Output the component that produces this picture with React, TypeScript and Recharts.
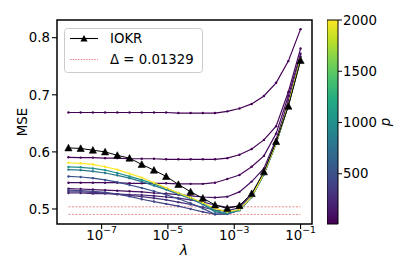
import React from 'react';
import { ComposedChart, Line, XAxis, YAxis, ReferenceLine, ReferenceArea, Legend, Label } from 'recharts';

// ---------- data ----------
const lambdas = [
  1e-8, 2.336e-8, 5.456e-8, 1.274e-7, 2.976e-7, 6.952e-7, 1.624e-6, 3.793e-6, 8.859e-6, 2.069e-5,
  4.833e-5, 1.129e-4, 2.637e-4, 6.158e-4, 1.438e-3, 3.36e-3, 7.848e-3, 1.833e-2, 4.281e-2, 1e-1,
];

const pValues = [10, 25, 50, 100, 200, 300, 400, 500, 800, 1000, 2000];

const mseP10 = [0.669, 0.669, 0.669, 0.669, 0.669, 0.669, 0.669, 0.669, 0.669, 0.668, 0.668, 0.668, 0.668, 0.671, 0.676, 0.684, 0.698, 0.721, 0.759, 0.815];
const mseP25 = [0.5905, 0.590, 0.590, 0.589, 0.589, 0.588, 0.588, 0.588, 0.587, 0.587, 0.587, 0.587, 0.587, 0.589, 0.595, 0.605, 0.621, 0.645, 0.705, 0.781];
const mseP50 = [0.546, 0.546, 0.546, 0.546, 0.546, 0.545, 0.545, 0.545, 0.545, 0.544, 0.544, 0.544, 0.546, 0.5525, 0.5595, 0.574, 0.593, 0.632, 0.698, 0.772];
const mseP100 = [0.5356, 0.535, 0.534, 0.533, 0.532, 0.531, 0.530, 0.528, 0.527, 0.525, 0.523, 0.521, 0.520, 0.5215, 0.530, 0.548, 0.571, 0.622, 0.690, 0.767];
const mseP200 = [0.528, 0.528, 0.527, 0.527, 0.526, 0.525, 0.5245, 0.523, 0.521, 0.519, 0.516, 0.512, 0.507, 0.503, 0.505, 0.524, 0.563, 0.617, 0.684, 0.764];
const mseP300 = [0.530, 0.530, 0.529, 0.528, 0.526, 0.524, 0.5215, 0.519, 0.516, 0.512, 0.508, 0.503, 0.498, 0.497, 0.502, 0.523, 0.562, 0.616, 0.683, 0.763];
const mseP400 = [0.533, 0.532, 0.531, 0.529, 0.526, 0.522, 0.517, 0.513, 0.509, 0.505, 0.500, 0.495, 0.491, 0.492, 0.499, 0.522, 0.561, 0.615, 0.682, 0.762];
const mseP500 = [0.557, 0.556, 0.554, 0.551, 0.547, 0.542, 0.537, 0.531, 0.525, 0.518, 0.510, 0.501, 0.4905, 0.491, 0.498, 0.521, 0.561, 0.615, 0.682, 0.762];
const mseP800 = [0.569, 0.568, 0.566, 0.563, 0.559, 0.554, 0.548, 0.541, 0.534, 0.526, 0.518, 0.508, 0.495, 0.492, 0.498, 0.521, 0.561, 0.615, 0.682, 0.762];
const mseP1000 = [0.5736, 0.573, 0.571, 0.568, 0.563, 0.557, 0.551, 0.544, 0.536, 0.528, 0.520, 0.510, 0.497, 0.493, 0.498, 0.521, 0.561, 0.615, 0.682, 0.762];
const mseP2000 = [0.581, 0.580, 0.578, 0.574, 0.569, 0.562, 0.555, 0.546, 0.537, 0.528, 0.520, 0.511, 0.501, 0.495, 0.499, 0.522, 0.562, 0.616, 0.683, 0.763];

const mseIOKR = [0.607, 0.606, 0.603, 0.600, 0.594, 0.589, 0.578, 0.568, 0.557, 0.543, 0.530, 0.519, 0.507, 0.501, 0.506, 0.527, 0.565, 0.618, 0.680, 0.760];

const minMse = 0.4905;
const delta = 0.01329;

const yTicks = [0.5, 0.6, 0.7, 0.8];
const xTicks = [1e-7, 1e-5, 1e-3, 1e-1];
const cbarTicks = [500, 1000, 1500, 2000];
const pMin = 10;
const pMax = 2000;

const seriesValues = [mseP10, mseP25, mseP50, mseP100, mseP200, mseP300, mseP400, mseP500, mseP800, mseP1000, mseP2000];

// ---------- styling ----------
const FONT = 'DejaVu Sans';
const FS = 13.3;
const xDomain = [4.519e-9, 0.2213];
const yDomain = [0.4737, 0.831];

const viridisStops = ['#440154', '#482475', '#414487', '#355f8d', '#2a788e', '#21918c', '#22a884', '#44bf70', '#7ad151', '#bddf26', '#fde725'];

function viridis(t: number): string {
  const tt = Math.max(0, Math.min(1, t)) * (viridisStops.length - 1);
  const i = Math.min(Math.floor(tt), viridisStops.length - 2);
  const f = tt - i;
  const a = viridisStops[i];
  const b = viridisStops[i + 1];
  const c = [1, 3, 5].map((k) => {
    const va = parseInt(a.slice(k, k + 2), 16);
    const vb = parseInt(b.slice(k, k + 2), 16);
    return Math.round(va + (vb - va) * f).toString(16).padStart(2, '0');
  });
  return '#' + c.join('');
}

const rows = lambdas.map((lam, i) => {
  const r: Record<string, number> = { lam, iokr: mseIOKR[i] };
  pValues.forEach((p, j) => {
    r['p' + p] = seriesValues[j][i];
  });
  return r;
});

const XTick = (props: any) => {
  const { x, y, payload } = props;
  const exp = Math.round(Math.log10(payload.value));
  return (
    <g transform={`translate(${x},${y})`}>
      <text x={0} y={0} dy={8.5} textAnchor="middle" fontFamily={FONT} fontSize={FS} fill="#000">
        10
        <tspan dy={-7} fontSize={9.3}>{'\u2212' + Math.abs(exp)}</tspan>
      </text>
    </g>
  );
};

const Triangle = (props: any) => {
  const { cx, cy, index } = props;
  if (cx == null || cy == null) return <g key={index} />;
  return <path key={index} d={`M${cx},${cy - 3.6} L${cx + 3.6},${cy + 3} L${cx - 3.6},${cy + 3} Z`} fill="#000" stroke="#000" strokeWidth={0.6} />;
};

const LegendBox = () => (
  <svg width={140} height={46} style={{ display: 'block' }}>
    <rect x={0.5} y={0.5} width={138} height={44} rx={3} ry={3} fill="#fff" fillOpacity={0.8} stroke="#cccccc" strokeWidth={1} />
    <line x1={6} y1={10.5} x2={34} y2={10.5} stroke="#000" strokeWidth={1.1} />
    <path d="M20,6.9 L23.6,13.5 L16.4,13.5 Z" fill="#000" />
    <text x={46} y={10.5} dy="0.36em" fontFamily={FONT} fontSize={FS} fill="#000">IOKR</text>
    <line x1={6} y1={31.5} x2={34} y2={31.5} stroke="#d62728" strokeOpacity={0.55} strokeWidth={1} strokeDasharray="1.5 1.2" />
    <text x={46} y={31.5} dy="0.36em" fontFamily={FONT} fontSize={FS} fill="#000">{'\u0394 = ' + delta}</text>
  </svg>
);

export default function App() {
  return (
    <div style={{ position: 'absolute', left: 0, top: 0, width: 409, height: 273, background: '#fff' }}>
      <div style={{ position: 'absolute', left: 0, top: 0 }}>
        <ComposedChart width={409} height={273} data={rows} margin={{ top: 20, right: 97, bottom: 0, left: 0 }}>
          <XAxis
            dataKey="lam"
            type="number"
            scale="log"
            domain={xDomain}
            allowDataOverflow
            ticks={xTicks}
            tick={<XTick />}
            tickSize={5}
            tickMargin={2}
            tickLine={{ stroke: '#000', strokeWidth: 1.1 }}
            axisLine={false}
            height={49}
            interval={0}
          >
            <Label
              content={() => (
                <text x={184} y={255} textAnchor="middle" fontFamily={FONT} fontSize={14} fontStyle="italic" fill="#000">
                  λ
                </text>
              )}
            />
          </XAxis>
          <YAxis
            type="number"
            domain={yDomain}
            allowDataOverflow
            ticks={yTicks}
            tickFormatter={(v: number) => v.toFixed(1)}
            tick={{ fontFamily: FONT, fontSize: FS, fill: '#000' }}
            tickSize={5}
            tickMargin={2}
            tickLine={{ stroke: '#000', strokeWidth: 1.1 }}
            axisLine={false}
            width={57}
          >
            <Label
              content={() => (
                <text x={22} y={122} transform="rotate(-90 22 122)" textAnchor="middle" dominantBaseline="central" fontFamily={FONT} fontSize={FS} fill="#000">
                  MSE
                </text>
              )}
            />
          </YAxis>
          <ReferenceLine
            segment={[{ x: lambdas[0], y: minMse }, { x: lambdas[lambdas.length - 1], y: minMse }]}
            stroke="#d62728"
            strokeOpacity={0.55}
            strokeWidth={1}
            strokeDasharray="2 1.5"
          />
          <ReferenceLine
            segment={[{ x: lambdas[0], y: minMse + delta }, { x: lambdas[lambdas.length - 1], y: minMse + delta }]}
            stroke="#d62728"
            strokeOpacity={0.55}
            strokeWidth={1}
            strokeDasharray="2 1.5"
          />
          {pValues.map((p) => {
            const c = viridis((p - pMin) / (pMax - pMin));
            return (
              <Line
                key={p}
                dataKey={'p' + p}
                type="linear"
                stroke={c}
                strokeWidth={1.2}
                dot={{ r: 1.2, fill: c, stroke: 'none' }}
                isAnimationActive={false}
              />
            );
          })}
          <Line dataKey="iokr" type="linear" stroke="#000" strokeWidth={1} dot={<Triangle />} isAnimationActive={false} />
          <ReferenceArea x1={xDomain[0]} x2={xDomain[1]} y1={yDomain[0]} y2={yDomain[1]} fill="none" fillOpacity={0} stroke="#000" strokeWidth={1.5} ifOverflow="visible" />
          <Legend
            layout="vertical"
            align="center"
            verticalAlign="middle"
            content={<LegendBox />}
            wrapperStyle={{ left: 64, top: 28, width: 140, height: 46 }}
          />
        </ComposedChart>
      </div>
      <div style={{ position: 'absolute', left: 327, top: 0 }}>
        <ComposedChart width={82} height={273} data={[{ x: 0 }, { x: 1 }]} margin={{ top: 20, right: 0, bottom: 49, left: 0 }}>
          <defs>
            <linearGradient id="viridisGrad" x1="0" y1="1" x2="0" y2="0">
              {viridisStops.map((c, i) => (
                <stop key={i} offset={i / (viridisStops.length - 1)} stopColor={c} />
              ))}
            </linearGradient>
          </defs>
          <XAxis dataKey="x" type="number" domain={[0, 1]} hide />
          <YAxis
            orientation="right"
            type="number"
            domain={[pMin, pMax]}
            allowDataOverflow
            ticks={cbarTicks}
            tick={{ fontFamily: FONT, fontSize: FS, fill: '#000', textAnchor: 'start' }}
            tickSize={4}
            tickMargin={1}
            tickLine={{ stroke: '#000', strokeWidth: 1 }}
            axisLine={false}
            width={71}
          >
            <Label
              content={() => (
                <text x={58} y={122} transform="rotate(-90 58 122)" textAnchor="middle" dominantBaseline="central" fontFamily={FONT} fontSize={FS} fontStyle="italic" fill="#000">
                  p
                </text>
              )}
            />
          </YAxis>
          <ReferenceArea x1={0} x2={1} y1={pMin} y2={pMax} fill="url(#viridisGrad)" fillOpacity={1} stroke="#000" strokeWidth={1} ifOverflow="visible" />
        </ComposedChart>
      </div>
    </div>
  );
}
